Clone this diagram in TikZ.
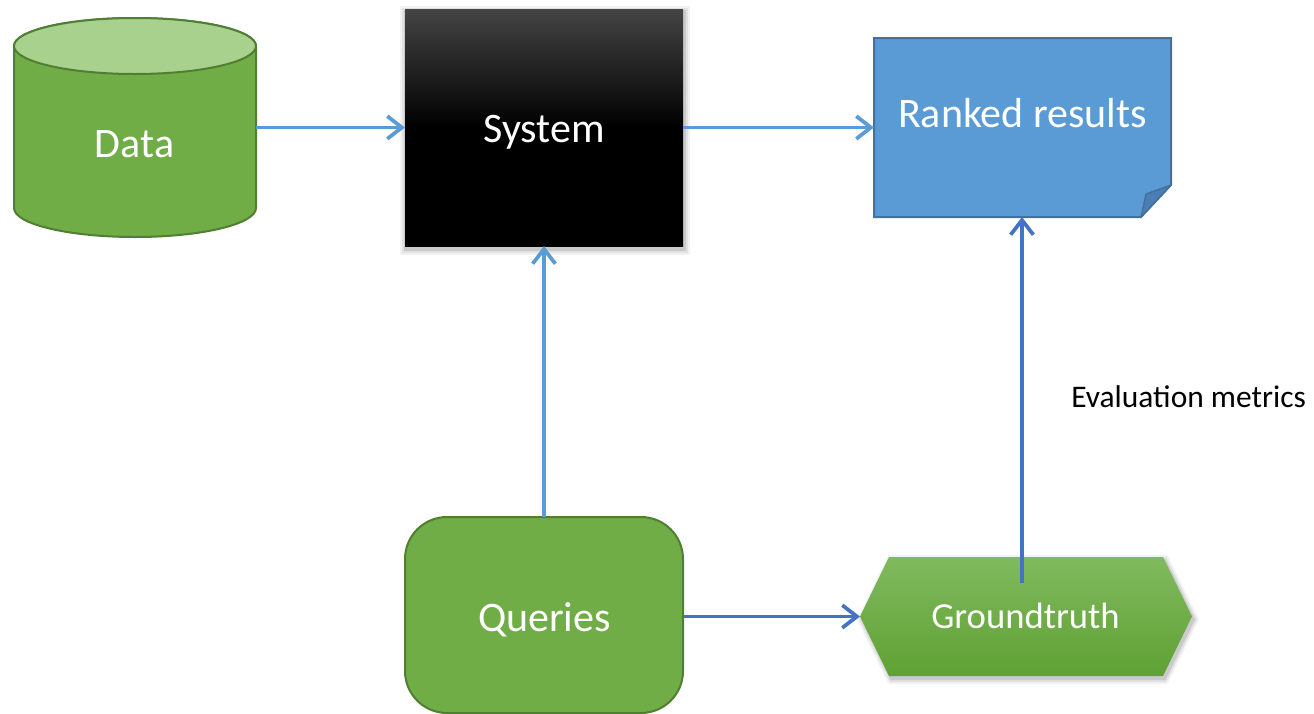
\documentclass[tikz,border=0pt]{standalone}
\usepackage{fontspec}
\setmainfont{Carlito}
\usetikzlibrary{arrows.meta,calc}
\definecolor{grn}{HTML}{70AD47}
\definecolor{grnlt}{HTML}{A9D18E}
\definecolor{grndk}{HTML}{507E32}
\definecolor{blu}{HTML}{5B9BD5}
\definecolor{bludk}{HTML}{41719C}
\definecolor{bluarr}{HTML}{4472C4}
\definecolor{foldc}{HTML}{4A7EB5}
\definecolor{gttop}{HTML}{80BA5E}
\definecolor{gtbot}{HTML}{5FA134}
\definecolor{systop}{HTML}{444444}
\begin{document}
\begin{tikzpicture}[x=0.75pt,y=-0.75pt,
  box/.style={inner sep=0pt, outer sep=0pt, minimum width=#1},
  lbl/.style={text=white, font=\fontsize{31.5}{36}\selectfont, anchor=base, inner sep=0pt},
  conn/.style={line width=2.8pt, -{Straight Barb[length=11pt,width=17pt,line width=2.8pt]}},
  ]
\useasboundingbox (0,0) rectangle (1314,714);

% anchor nodes
\node[box=181.5pt, minimum height=164.25pt] (data) at (135,127.5) {};
\node[box=208.5pt, minimum height=177.75pt] (system) at (544,127.5) {};
\node[box=222.75pt, minimum height=134.25pt] (ranked) at (1022.5,127.5) {};
\node[box=208.5pt, minimum height=147pt] (queries) at (544,615) {};
\node[box=249pt, minimum height=89.25pt] (gt) at (1026,616.5) {};

% Data cylinder
\draw[fill=grn, draw=grndk, line width=1.5pt]
  (14,46) -- (14,208) arc[start angle=180,end angle=360,x radius=90.75pt,y radius=21.75pt]
  -- (256,46) arc[start angle=0,end angle=180,x radius=90.75pt,y radius=21pt] -- cycle;
\draw[fill=grnlt, draw=grndk, line width=1.5pt] (135,46) ellipse[x radius=90.75pt, y radius=21pt];

% System box with shadow
\foreach \e/\o in {6/0.05,4/0.07,2/0.10}
  \fill[black,opacity=\o] ($(system.north west)+(-\e+1,-\e+3)$) rectangle ($(system.south east)+(\e+1,\e+3)$);
\shade[top color=systop, bottom color=black, middle color=black] (system.north west) rectangle (system.south east);

% Ranked results (folded corner)
\draw[fill=blu, draw=bludk, line width=1.5pt]
  (874,38) -- (1171,38) -- (1171,185) -- (1141,217) -- (874,217) -- cycle;
\draw[fill=foldc, draw=bludk, line width=1pt, line join=round]
  (1141,217) -- (1146,194) -- (1171,185) -- cycle;

% Queries rounded box
\draw[rounded corners=31.5pt, fill=grn, draw=grndk, line width=1.5pt]
  (queries.north west) rectangle (queries.south east);

% Groundtruth hexagon with shadow
\foreach \e/\o in {5/0.05,3/0.07,1/0.10}
  \fill[black,opacity=\o] (860-\e+2,619.5) -- (889-\e/2+2,557-\e+3) -- (1163+\e/2+2,557-\e+3)
    -- (1192+\e+2,619.5) -- (1163+\e/2+2,676+\e+3) -- (889-\e/2+2,676+\e+3) -- cycle;
\shade[top color=gttop, bottom color=gtbot]
  (860,616.5) -- (889,557) -- (1163,557) -- (1192,616.5) -- (1163,676) -- (889,676) -- cycle;

% texts
\node[lbl] (datat) at (134.5,157) {Data};
\node[lbl] (systemt) at (544,142) {System};
\node[lbl] (rankedt) at (1022.5,127) {Ranked results};
\node[lbl] (queriest) at (544.5,631) {Queries};
\node[lbl, font=\fontsize{27.5}{33}\selectfont] (gtt) at (1025.5,628) {Groundtruth};
\node[anchor=base west, inner sep=0pt, font=\fontsize{23.6}{28}\selectfont] (evalt) at (1071,407) {Evaluation metrics};

% connectors
\draw[conn, blu] (data.east) -- (system.west);
\draw[conn, blu] (system.east) -- (ranked.west);
\draw[conn, blu] (queries.north) -- (system.south);
\draw[conn, bluarr] (queries.east |- gt.west) -- (gt.west);
\coordinate (gtin) at (1022,583);
\draw[conn, bluarr] (gtin) -- (gtin |- ranked.south);
\end{tikzpicture}
\end{document}
